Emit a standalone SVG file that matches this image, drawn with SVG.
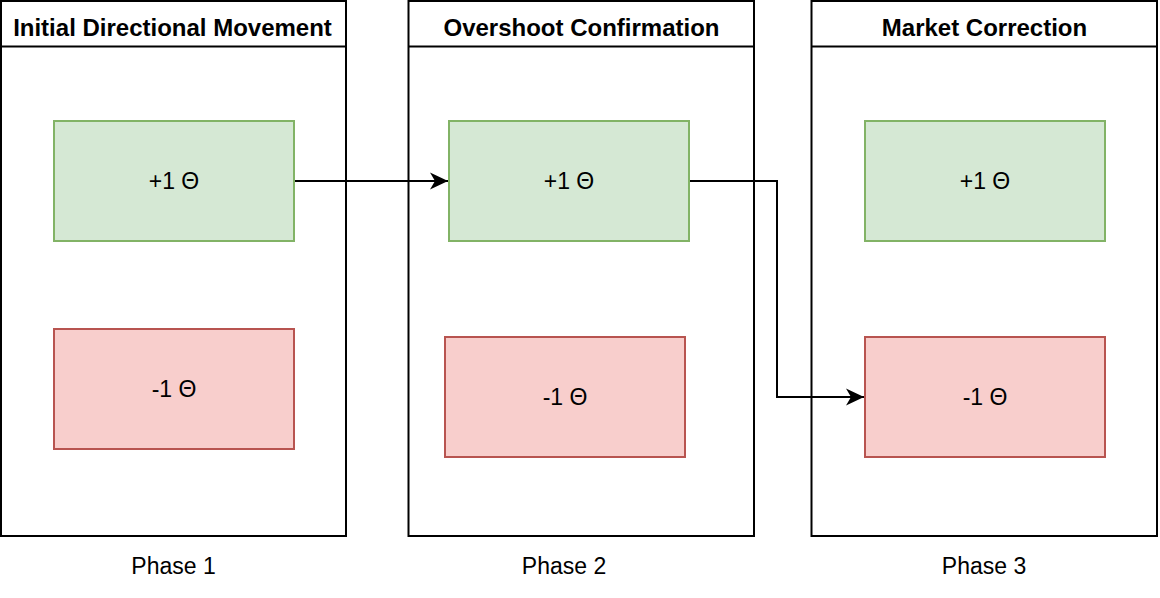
<svg xmlns="http://www.w3.org/2000/svg" width="1160" height="598" viewBox="0 0 1160 598">
<style>
.cont{fill:#ffffff;stroke:#000000;stroke-width:2}
.hdr{fill:none;stroke:#000000;stroke-width:2}
.title{font-family:"Liberation Sans",Arial,sans-serif;font-size:24px;font-weight:bold;fill:#000000;text-anchor:middle}
.lbl{font-family:"Liberation Sans",Arial,sans-serif;font-size:23px;fill:#000000;text-anchor:middle}
.pos{fill:#d5e8d4;stroke:#82b366;stroke-width:2}
.neg{fill:#f8cecc;stroke:#b85450;stroke-width:2}
.edge{fill:none;stroke:#000000;stroke-width:2}
</style>
<defs>
<marker id="arr" markerWidth="20" markerHeight="18" refX="18" refY="9" orient="auto" markerUnits="userSpaceOnUse">
<path d="M0,0.5 L18,9 L0,17.5 L5,9 Z" fill="#000000"/>
</marker>
</defs>
<g id="phase1">
<rect class="cont" x="1" y="1" width="345" height="535"/>
<line class="hdr" x1="1" y1="46.5" x2="346" y2="46.5"/>
<text class="title" x="172.5" y="36">Initial Directional Movement</text>
<text class="lbl" x="173.5" y="574">Phase 1</text>
</g>
<g id="phase2">
<rect class="cont" x="408.5" y="1" width="345.5" height="535"/>
<line class="hdr" x1="408.5" y1="46.5" x2="754" y2="46.5"/>
<text class="title" x="581.5" y="36">Overshoot Confirmation</text>
<text class="lbl" x="564" y="574">Phase 2</text>
</g>
<g id="phase3">
<rect class="cont" x="811.5" y="1" width="345.5" height="535"/>
<line class="hdr" x1="811.5" y1="46.5" x2="1157" y2="46.5"/>
<text class="title" x="984.5" y="36">Market Correction</text>
<text class="lbl" x="984" y="574">Phase 3</text>
</g>
<g id="p1-pos">
<rect class="pos" x="54" y="121" width="240" height="120"/>
<text class="lbl" x="174" y="189">+1 Θ</text>
</g>
<g id="p1-neg">
<rect class="neg" x="54" y="329" width="240" height="120"/>
<text class="lbl" x="174" y="397">-1 Θ</text>
</g>
<g id="p2-pos">
<rect class="pos" x="449" y="121" width="240" height="120"/>
<text class="lbl" x="569" y="189">+1 Θ</text>
</g>
<g id="p2-neg">
<rect class="neg" x="445" y="337" width="240" height="120"/>
<text class="lbl" x="565" y="405">-1 Θ</text>
</g>
<g id="p3-pos">
<rect class="pos" x="865" y="121" width="240" height="120"/>
<text class="lbl" x="985" y="189">+1 Θ</text>
</g>
<g id="p3-neg">
<rect class="neg" x="865" y="337" width="240" height="120"/>
<text class="lbl" x="985" y="405">-1 Θ</text>
</g>
<g id="connectors">
<path class="edge" d="M295,181 L448,181" marker-end="url(#arr)"/>
<path class="edge" d="M690,181 L777,181 L777,397 L864,397" marker-end="url(#arr)"/>
</g>
</svg>
